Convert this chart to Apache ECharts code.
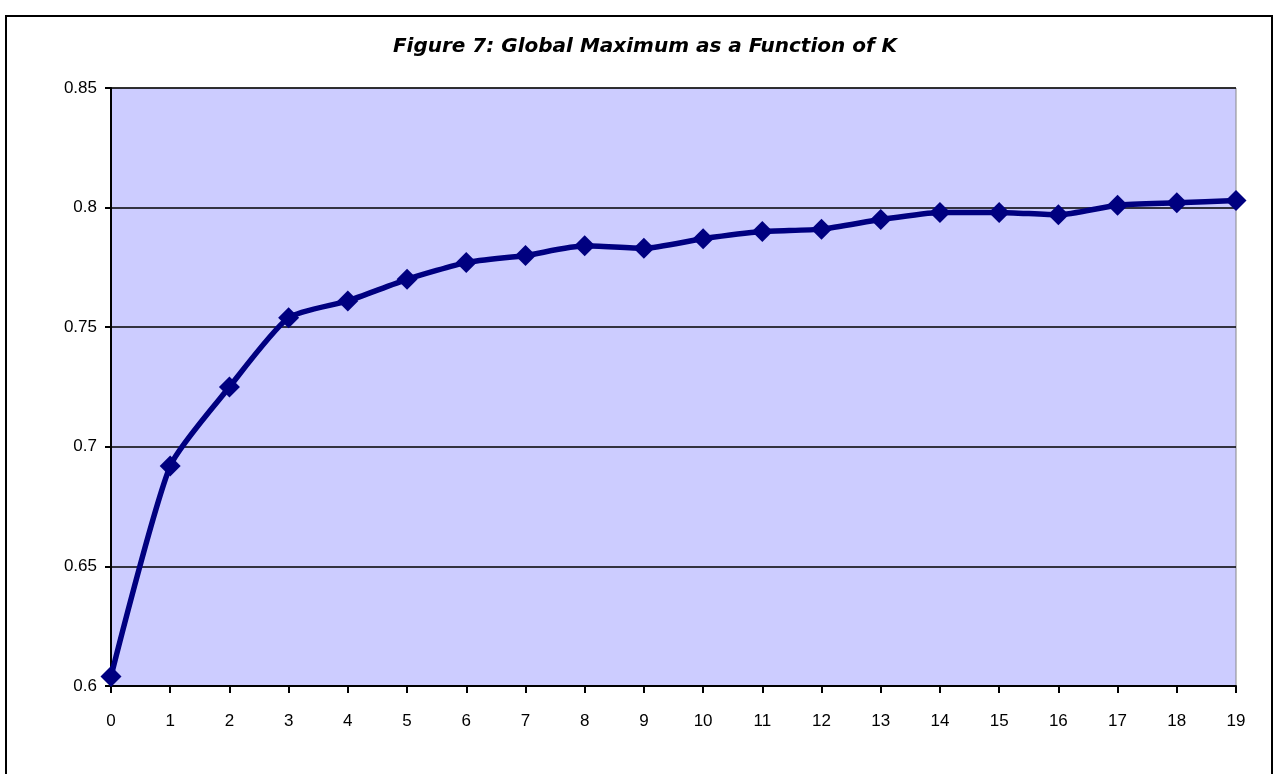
<!DOCTYPE html>
<html>
<head>
<meta charset="utf-8">
<script src="https://cdn.jsdelivr.net/npm/echarts@6/dist/echarts.min.js"></script>
<style>
html,body{margin:0;padding:0;background:#fff;}
#c{width:1278px;height:774px;}
</style>
</head>
<body>
<div id="c"></div>
<script>
const categories = ['0','1','2','3','4','5','6','7','8','9','10','11','12','13','14','15','16','17','18','19'];
const values = [0.604,0.692,0.725,0.754,0.761,0.770,0.777,0.780,0.784,0.783,0.787,0.790,0.791,0.795,0.798,0.798,0.797,0.801,0.802,0.803];
const titleText = 'Figure 7: Global Maximum as a Function of K';

const chart = echarts.init(document.getElementById('c'));
chart.setOption({
  animation: false,
  backgroundColor: '#ffffff',
  title: {
    text: titleText,
    left: 640, textAlign: 'center', top: 32,
    textStyle: {fontFamily: 'DejaVu Sans', fontSize: 20, fontWeight: 'bold', fontStyle: 'italic', color: '#000'}
  },
  graphic: [{
    type: 'rect', shape: {x: 6, y: 16, width: 1266, height: 780},
    style: {fill: 'none', stroke: '#000', lineWidth: 2}, silent: true, z: 100
  }],
  grid: {
    left: 111, top: 88, width: 1125, height: 598,
    show: true, backgroundColor: '#CCCCFF', borderColor: '#888888', borderWidth: 1
  },
  xAxis: {
    type: 'category', data: categories, boundaryGap: false,
    axisLine: {lineStyle: {color: '#000', width: 2}},
    axisTick: {alignWithLabel: true, length: 7, lineStyle: {color: '#000', width: 2}},
    axisLabel: {fontFamily: 'Liberation Sans', fontSize: 17, color: '#000', margin: 27, interval: 0},
    splitLine: {show: false}
  },
  yAxis: {
    type: 'value', min: 0.6, max: 0.85, interval: 0.05,
    axisLine: {show: true, lineStyle: {color: '#000', width: 2}},
    axisTick: {show: true, length: 6, lineStyle: {color: '#000', width: 2}},
    axisLabel: {fontFamily: 'Liberation Sans', fontSize: 17, color: '#000', margin: 14,
      formatter: v => String(parseFloat(v.toFixed(2)))},
    splitLine: {show: true, lineStyle: {color: '#000', width: 1.5}}
  },
  series: [{
    type: 'line', data: values,
    smooth: 0.2,
    symbol: 'diamond', symbolSize: 21,
    lineStyle: {color: '#000080', width: 5.5},
    itemStyle: {color: '#000080'},
    clip: false
  }]
});
</script>
</body>
</html>
